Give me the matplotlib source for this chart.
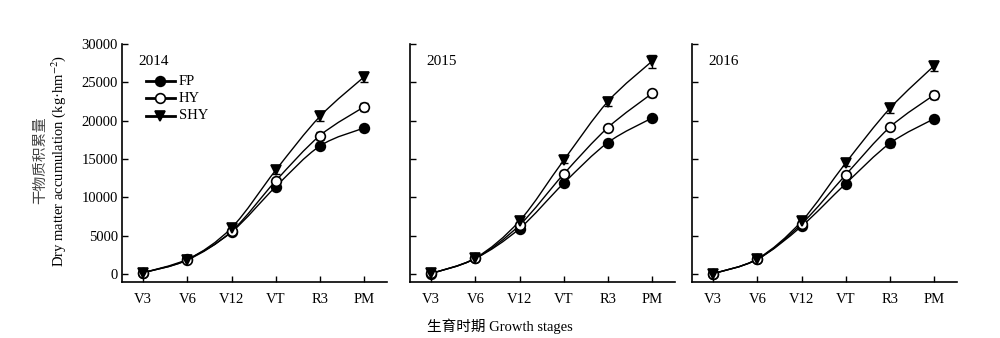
import numpy as np
import matplotlib.pyplot as plt
from matplotlib.path import Path
from matplotlib.patches import PathPatch

plt.rcParams['font.family'] = ['Liberation Serif', 'Noto Sans CJK SC']
plt.rcParams['mathtext.fontset'] = 'stix'

stages = ['V3', 'V6', 'V12', 'VT', 'R3', 'PM']
years = ['2014', '2015', '2016']
treatments = ['FP', 'HY', 'SHY']

fp_2014 = [200, 1950, 5500, 11400, 16700, 19050]
hy_2014 = [200, 1850, 5600, 12150, 18050, 21800]
shy_2014 = [200, 1900, 6050, 13550, 20550, 25700]
fp_err_2014 = [80, 150, 250, 400, 450, 400]
hy_err_2014 = [80, 150, 250, 450, 500, 550]
shy_err_2014 = [80, 150, 300, 500, 650, 600]

fp_2015 = [90, 2050, 5950, 11850, 17150, 20350]
hy_2015 = [100, 2050, 6400, 13050, 19100, 23550]
shy_2015 = [100, 2100, 6950, 14850, 22500, 27750]
fp_err_2015 = [80, 150, 250, 300, 400, 300]
hy_err_2015 = [80, 150, 250, 350, 300, 500]
shy_err_2015 = [80, 150, 300, 400, 600, 850]

fp_2016 = [80, 1950, 6250, 11800, 17050, 20250]
hy_2016 = [80, 1950, 6550, 12950, 19150, 23350]
shy_2016 = [80, 2000, 6900, 14500, 21600, 27150]
fp_err_2016 = [80, 150, 250, 350, 450, 300]
hy_err_2016 = [80, 150, 250, 350, 300, 550]
shy_err_2016 = [80, 150, 300, 450, 600, 650]

data = {
    '2014': [(fp_2014, fp_err_2014), (hy_2014, hy_err_2014), (shy_2014, shy_err_2014)],
    '2015': [(fp_2015, fp_err_2015), (hy_2015, hy_err_2015), (shy_2015, shy_err_2015)],
    '2016': [(fp_2016, fp_err_2016), (hy_2016, hy_err_2016), (shy_2016, shy_err_2016)],
}

styles = {
    'FP': dict(marker='o', mfc='black', mec='black'),
    'HY': dict(marker='o', mfc='white', mec='black'),
    'SHY': dict(marker='v', mfc='black', mec='black'),
}


def smooth_path(x, y):
    # catmull-rom through the points, drawn as cubic bezier segments
    x = np.asarray(x, float)
    y = np.asarray(y, float)
    n = len(x)
    verts = [(x[0], y[0])]
    codes = [Path.MOVETO]
    for i in range(n - 1):
        p0 = (x[max(i - 1, 0)], y[max(i - 1, 0)])
        p1 = (x[i], y[i])
        p2 = (x[i + 1], y[i + 1])
        p3 = (x[min(i + 2, n - 1)], y[min(i + 2, n - 1)])
        c1 = (p1[0] + (p2[0] - p0[0]) / 6, p1[1] + (p2[1] - p0[1]) / 6)
        c2 = (p2[0] - (p3[0] - p1[0]) / 6, p2[1] - (p3[1] - p1[1]) / 6)
        verts += [c1, c2, p2]
        codes += [Path.CURVE4] * 3
    return Path(verts, codes)


fig = plt.figure(figsize=(10, 3.38), dpi=100)
lefts = [0.122, 0.410, 0.692]
x = np.arange(len(stages))

for k, yr in enumerate(years):
    ax = fig.add_axes([lefts[k], 0.166, 0.265, 0.704])
    for name, (vals, errs) in zip(treatments, data[yr]):
        st = styles[name]
        ax.add_patch(PathPatch(smooth_path(x, vals), fc='none', ec='black', lw=1.0, zorder=2))
        ax.errorbar(x, vals, yerr=errs, fmt='none', ecolor='black', elinewidth=1.0,
                    capsize=3, capthick=1.0, zorder=3)
        ax.plot(x, vals, ls='none', marker=st['marker'], ms=7, mfc=st['mfc'],
                mec=st['mec'], mew=1.2, zorder=4)
    ax.set_xlim(-0.48, 5.52)
    ax.set_ylim(-1000, 30000)
    ax.set_xticks(x)
    ax.set_xticklabels(stages, fontsize=10.5)
    ax.set_yticks(np.arange(0, 30001, 5000))
    if k == 0:
        ax.tick_params(axis='y', labelsize=10.5)
    else:
        ax.set_yticklabels([])
    ax.tick_params(direction='in', length=4, width=1.0)
    ax.tick_params(axis='x', pad=8)
    ax.tick_params(axis='y', pad=3)
    ax.spines['top'].set_visible(False)
    ax.spines['right'].set_visible(False)
    for s in ['left', 'bottom']:
        ax.spines[s].set_linewidth(1.2)
    ax.text(0.06, 0.91, yr, transform=ax.transAxes, fontsize=11)

    if k == 0:
        for i, name in enumerate(treatments):
            st = styles[name]
            yy = 0.843 - i * 0.072
            ax.plot([0.09, 0.2], [yy, yy], color='black', lw=2, transform=ax.transAxes)
            ax.plot([0.145], [yy], transform=ax.transAxes, ls='none', marker=st['marker'],
                    ms=7, mfc=st['mfc'], mec=st['mec'], mew=1.2)
            ax.text(0.215, yy, name, transform=ax.transAxes, fontsize=10.5, va='center')

fig.text(0.041, 0.525, '干物质积累量', rotation=90, ha='center', va='center',
         fontsize=10.5, color='#444444')
fig.text(0.059, 0.525, 'Dry matter accumulation (kg·hm$^{-2}$)', rotation=90,
         ha='center', va='center', fontsize=10.5)
fig.text(0.5, 0.035, '生育时期 Growth stages', ha='center', va='center', fontsize=10.5)

fig.savefig('out.png', dpi=100)
